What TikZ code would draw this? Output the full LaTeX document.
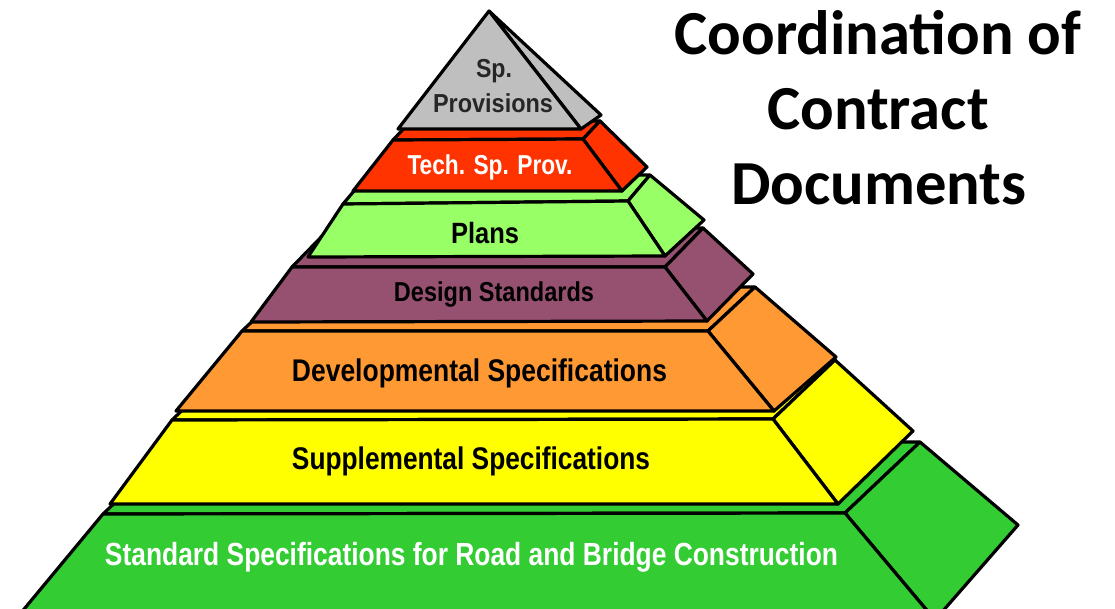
\documentclass[tikz,border=0pt]{standalone}
\usepackage{fontspec}
\usepackage{graphicx}
\setmainfont{Liberation Sans}
\newfontfamily\titlefont{Carlito}
\definecolor{cgray}{RGB}{191,191,191}
\definecolor{cred}{RGB}{255,51,0}
\definecolor{clgreen}{RGB}{153,255,102}
\definecolor{cpurple}{RGB}{150,80,112}
\definecolor{corange}{RGB}{255,153,51}
\definecolor{cyellow}{RGB}{255,255,0}
\definecolor{cgreen}{RGB}{51,204,51}
\newcommand\fitw[2]{\resizebox{#1}{\height}{#2}}
\begin{document}
\begin{tikzpicture}[x=0.75pt,y=-0.75pt,
  face/.style={draw=black,line width=2.4pt,line join=round},
  lbl/.style={inner sep=0pt,anchor=base,font=\bfseries\fontsize{23.5}{23.5}\selectfont},
  ttl/.style={inner sep=0pt,anchor=base,font=\titlefont\bfseries\fontsize{47}{47}\selectfont}]
\useasboundingbox (0,0) rectangle (1115,608);
\clip (0,0) rectangle (1115,608);
% layer 7: green
\path[face,fill=cgreen] (103,514) -- (178,443) -- (920,442) -- (845,513) -- cycle;
\path[face,fill=cgreen] (845,513) -- (920,442) -- (1018,525) -- (935,620) -- cycle;
\path[face,fill=cgreen] (103,514) -- (845,513) -- (935,620) -- (15,620) -- cycle;
% layer 6: yellow
\path[face,fill=cyellow] (172,420) -- (234,361) -- (835,360) -- (773,419) -- cycle;
\path[face,fill=cyellow] (773,419) -- (835,360) -- (913,431) -- (838,504) -- cycle;
\path[face,fill=cyellow] (172,420) -- (773,419) -- (838,504) -- (110,504) -- cycle;
% layer 5: orange
\path[face,fill=corange] (242,331) -- (289,287) -- (755,287) -- (708,331) -- cycle;
\path[face,fill=corange] (708,331) -- (755,287) -- (836,357) -- (774,411) -- cycle;
\path[face,fill=corange] (242,331) -- (708,331) -- (774,411) -- (176,411) -- cycle;
% layer 4: purple
\path[face,fill=cpurple] (292,267) -- (330,228) -- (703,228) -- (665,267) -- cycle;
\path[face,fill=cpurple] (665,267) -- (703,228) -- (753,274) -- (707,321) -- cycle;
\path[face,fill=cpurple] (292,267) -- (665,267) -- (707,321) -- (251,322) -- cycle;
% layer 3: light green
\path[face,fill=clgreen] (343,204) -- (365,178) -- (650,175) -- (628,201) -- cycle;
\path[face,fill=clgreen] (628,201) -- (650,175) -- (704,220) -- (665,256) -- cycle;
\path[face,fill=clgreen] (343,204) -- (628,201) -- (665,256) -- (308,257) -- cycle;
% layer 2: red
\path[face,fill=cred] (393,140) -- (410,122) -- (600,121) -- (583,139) -- cycle;
\path[face,fill=cred] (583,139) -- (600,121) -- (647,167) -- (622,191) -- cycle;
\path[face,fill=cred] (393,140) -- (583,139) -- (622,191) -- (353,191) -- cycle;
% layer 1: gray
\path[face,fill=cgray] (489,11) -- (601,115) -- (581,129) -- cycle;
\path[face,fill=cgray] (489,11) -- (581,129) -- (398,129) -- cycle;
% labels
\node[lbl,text=black!85,font=\bfseries\fontsize{19.5}{19.5}\selectfont] (sp1) at (494,77) {\fitw{27pt}{Sp.}};
\node[lbl,text=black!85,font=\bfseries\fontsize{19.5}{19.5}\selectfont] (sp2) at (493,112) {\fitw{90pt}{Provisions}};
\node[lbl,text=white,font=\bfseries\fontsize{20.5}{20.5}\selectfont] (tsp) at (490,174) {\fitw{123.75pt}{Tech. Sp. Prov.}};
\node[lbl,font=\bfseries\fontsize{22}{22}\selectfont] (pl) at (485,243) {\fitw{51pt}{Plans}};
\node[lbl,font=\bfseries\fontsize{20.5}{20.5}\selectfont] (ds) at (494,301) {\fitw{150pt}{Design Standards}};
\node[lbl] (dev) at (479.5,381) {\fitw{281.25pt}{Developmental Specifications}};
\node[lbl] (sup) at (471,469) {\fitw{268.5pt}{Supplemental Specifications}};
\node[lbl,text=white,font=\bfseries\fontsize{24}{24}\selectfont] (std) at (471.5,565) {\fitw{549.75pt}{Standard Specifications for Road and Bridge Construction}};
% title
\node[ttl] (t1) at (878,54) {Coordination of};
\node[ttl] (t2) at (878,129) {Contract};
\node[ttl] (t3) at (879,204) {Documents};
\end{tikzpicture}
\end{document}
